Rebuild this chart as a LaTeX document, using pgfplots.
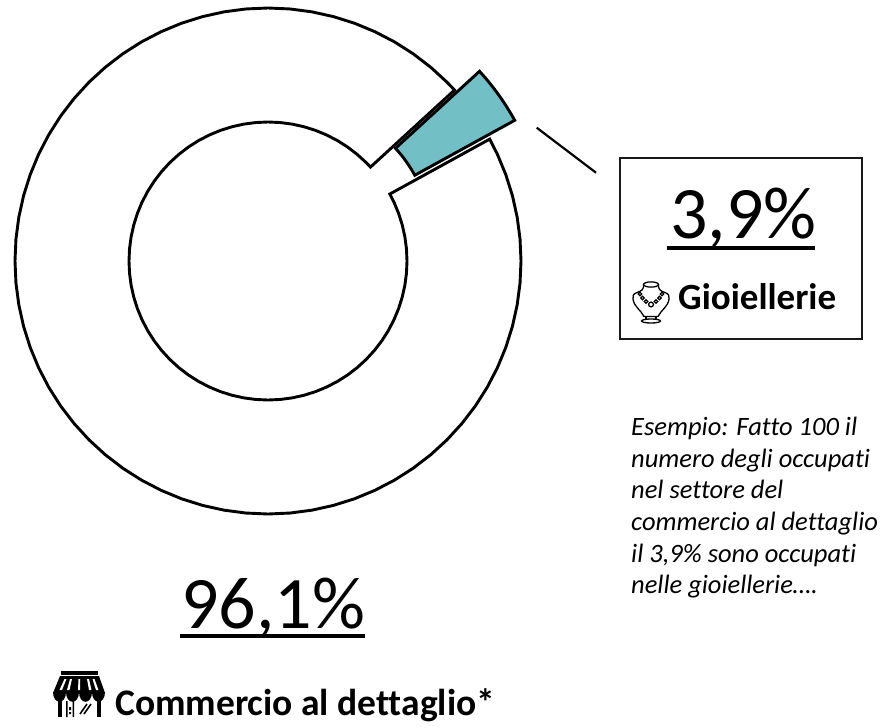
\documentclass[border=0pt]{standalone}
\usepackage{fontspec}
\setmainfont{Carlito}[Ligatures=NoCommon]
\usepackage{pgfplots}
\pgfplotsset{compat=1.18}
\usepgfplotslibrary{polar}
\definecolor{slice}{RGB}{114,192,198}
\pgfplotsset{ringaxis/.style={
    hide axis, scale only axis, clip=false,
    width=506pt, height=506pt,
    xmin=0, xmax=360, ymin=0, ymax=253,
    anchor=center}}
\newcommand{\bigtxt}{\fontsize{74}{74}\selectfont}
\begin{document}
\begin{tikzpicture}[x=1pt,y=-1pt]
  \path (0,0) rectangle (882,727);

  % ring: 96,1%
  \begin{polaraxis}[ringaxis, at={(268pt,-261pt)}]
    \addplot [black, line width=2.9pt, fill=white, line join=miter, mark=none] coordinates {
      (42.5,253) (45,253) (50,253) (55,253) (60,253) (65,253) (70,253) (75,253) (80,253) (85,253)
      (90,253) (95,253) (100,253) (105,253) (110,253) (115,253) (120,253) (125,253) (130,253) (135,253)
      (140,253) (145,253) (150,253) (155,253) (160,253) (165,253) (170,253) (175,253) (180,253) (185,253)
      (190,253) (195,253) (200,253) (205,253) (210,253) (215,253) (220,253) (225,253) (230,253) (235,253)
      (240,253) (245,253) (250,253) (255,253) (260,253) (265,253) (270,253) (275,253) (280,253) (285,253)
      (290,253) (295,253) (300,253) (305,253) (310,253) (315,253) (320,253) (325,253) (330,253) (335,253)
      (340,253) (345,253) (350,253) (355,253) (0,253) (5,253) (10,253) (15,253) (20,253) (25,253) (28.8,253)
      (28.8,139) (25,139) (20,139) (15,139) (10,139) (5,139) (0,139) (355,139) (350,139) (345,139) (340,139)
      (335,139) (330,139) (325,139) (320,139) (315,139) (310,139) (305,139) (300,139) (295,139) (290,139)
      (285,139) (280,139) (275,139) (270,139) (265,139) (260,139) (255,139) (250,139) (245,139) (240,139)
      (235,139) (230,139) (225,139) (220,139) (215,139) (210,139) (205,139) (200,139) (195,139) (190,139)
      (185,139) (180,139) (175,139) (170,139) (165,139) (160,139) (155,139) (150,139) (145,139) (140,139)
      (135,139) (130,139) (125,139) (120,139) (115,139) (110,139) (105,139) (100,139) (95,139) (90,139)
      (85,139) (80,139) (75,139) (70,139) (65,139) (60,139) (55,139) (50,139) (45,139) (42.5,139)
    } -- cycle;
  \end{polaraxis}

  % exploded slice: 3,9%
  \begin{polaraxis}[ringaxis, at={(293pt,-242.2pt)}]
    \addplot [black, line width=2.9pt, fill=slice, line join=miter, mark=none] coordinates {
      (42.5,253) (40,253) (37.5,253) (35,253) (32.5,253) (30,253) (28.8,253)
      (28.8,139) (30,139) (32.5,139) (35,139) (37.5,139) (40,139) (42.5,139)
    } -- cycle;
  \end{polaraxis}

  % connector and box
  \draw [line width=2.2pt] (536.7,127.7) -- (596,172.7);
  \draw [line width=2.2pt, black!90] (620,158) rectangle (862,339);

  % labels
  \node [anchor=base west, inner sep=0] at (181,628) {\bigtxt 96,1\%};
  \fill (180,634.3) rectangle (365,637.8);
  \node [anchor=base west, inner sep=0] at (670,238) {\bigtxt 3,9\%};
  \fill (667,246) rectangle (815,249.5);
  \node [anchor=base west, inner sep=0] at (678,309) {\fontsize{37}{37}\selectfont\bfseries Gioiellerie};
  \node [anchor=base west, inner sep=0] at (115,715) {\fontsize{37.5}{37.5}\selectfont\bfseries Commercio al dettaglio*};

  \begin{scope}[every node/.style={anchor=base west, inner sep=0, font=\fontsize{26.5}{26.5}\selectfont\itshape}]
    \node at (631,435) {Esempio: Fatto 100 il};
    \node at (631,467) {numero degli occupati};
    \node at (631,498) {nel settore del};
    \node at (631,530) {commercio al dettaglio};
    \node at (631,562) {il 3,9\% sono occupati};
    \node at (631,593) {nelle gioiellerie….};
  \end{scope}

  % necklace bust icon
  \begin{scope}[line width=1.3pt]
    \draw (651,284.5) ellipse (7.5 and 2.6);
    \draw (643.5,284.5) .. controls (644,289) and (642,291) .. (637,292.5)
          .. controls (633,294) and (632.5,296) .. (633,299)
          .. controls (634,307) and (641,310) .. (644,316.5) -- (658,316.5);
    \draw (658.5,284.5) .. controls (658,289) and (660,291) .. (665,292.5)
          .. controls (669,294) and (669.5,296) .. (669,299)
          .. controls (668,307) and (661,310) .. (658,316.5);
    \draw (646,316.5) -- (646,320) (656,316.5) -- (656,320);
    \draw (651,321) ellipse (9.5 and 2);
    \foreach \bx/\by/\br in {640/294/1.7, 642.5/298/1.8, 646/301.5/1.8, 651/304.5/2.4, 656/301.5/1.8, 659.5/298/1.8, 662/294/1.7}
      \draw [fill=white] (\bx,\by) circle (\br);
  \end{scope}

  % shop icon
  \fill (61,671) rectangle (98,674.5);
  \fill (60,676) -- (99,676) -- (105,693) -- (53,693) -- cycle;
  \fill (105,692) .. controls (105,705) and (92,705) .. (92,692)
        .. controls (92,705) and (79,705) .. (79,692)
        .. controls (79,705) and (66,705) .. (66,692)
        .. controls (66,705) and (53,705) .. (53,692) -- cycle;
  \fill [white] (64.5,679) -- (66.5,679) -- (62,690) -- (59.5,690) -- cycle;
  \fill [white] (70,679) -- (72,679) -- (69.5,690) -- (67,690) -- cycle;
  \fill [white] (78.5,679) -- (80,679) -- (80,690) -- (78,690) -- cycle;
  \fill [white] (87,679) -- (89,679) -- (91.5,690) -- (89,690) -- cycle;
  \fill [white] (92.5,679) -- (94.5,679) -- (98.5,690) -- (96,690) -- cycle;
  \fill (58,700) rectangle (62,717);
  \fill (97,700) rectangle (100.5,717);
  \fill (66,701) rectangle (67.5,717) (72.5,701) rectangle (74,717);
  \fill (69,707) rectangle (71,710) (69,712) rectangle (71,714);
  \draw [line width=1.6pt] (80,714) -- (87,704) (84,714) -- (91,704);
\end{tikzpicture}
\end{document}
